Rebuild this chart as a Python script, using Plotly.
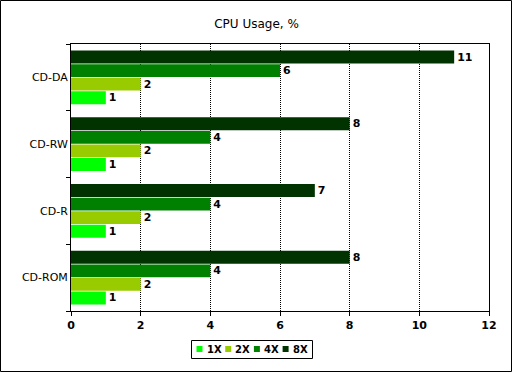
import plotly.graph_objects as go

categories = ["CD-ROM", "CD-R", "CD-RW", "CD-DA"]
series_names = ["1X", "2X", "4X", "8X"]
v_1x = [1, 1, 1, 1]
v_2x = [2, 2, 2, 2]
v_4x = [4, 4, 4, 6]
v_8x = [8, 7, 8, 11]
colors = ["#00FF00", "#99CC00", "#008000", "#003300"]

W, H = 513, 373
L, R, T, B = 71, 24, 44, 62
pw, ph = W - L - R, H - T - B


def px(x):
    return (x - L) / pw


def py(y):
    return (H - B - y) / ph


fig = go.Figure()
for name, vals, c in zip(series_names, [v_1x, v_2x, v_4x, v_8x], colors):
    fig.add_trace(go.Bar(
        y=categories, x=vals, name=name, orientation="h",
        marker=dict(color=c, line=dict(width=0)),
        text=[str(v) for v in vals], textposition="outside",
        textfont=dict(family="DejaVu Sans", size=11, color="black", weight="bold"),
        cliponaxis=False, showlegend=False,
    ))

shapes = [dict(type="rect", xref="paper", yref="paper",
               x0=px(0.5), x1=px(W - 1.5), y0=py(H - 1.5), y1=py(0.5),
               line=dict(color="black", width=1), fillcolor="rgba(0,0,0,0)")]
annotations = []
# custom compact legend
shapes.append(dict(type="rect", xref="paper", yref="paper",
                   x0=px(191.5), x1=px(312.5), y0=py(358.5), y1=py(340.5),
                   line=dict(color="black", width=1), fillcolor="white"))
for i, (name, c) in enumerate(zip(series_names, colors)):
    sx = 196.5 + i * 28.7
    shapes.append(dict(type="rect", xref="paper", yref="paper",
                       x0=px(sx), x1=px(sx + 6), y0=py(352), y1=py(346),
                       line=dict(width=0), fillcolor=c))
    annotations.append(dict(xref="paper", yref="paper", x=px(sx + 8), y=py(349.5),
                            text=name, showarrow=False, xanchor="left", yanchor="middle",
                            font=dict(family="DejaVu Sans", size=10, color="black", weight="bold")))

fig.update_layout(
    width=W, height=H,
    margin=dict(l=L, r=R, t=T, b=B, autoexpand=False),
    paper_bgcolor="white", plot_bgcolor="white",
    barmode="group", bargap=0.19, bargroupgap=0.04,
    title=dict(text="CPU Usage, %", x=0.5, xref="container", xanchor="center",
               y=1 - 24 / H, yref="container", yanchor="middle",
               font=dict(family="DejaVu Sans", size=12, color="black")),
    showlegend=False,
    xaxis=dict(range=[0, 12], dtick=2, showgrid=True, gridcolor="black", griddash="1px,1px", gridwidth=1,
               ticks="outside", ticklen=4, tickcolor="black", showline=True, linecolor="black", mirror=True,
               tickfont=dict(family="DejaVu Sans", size=11, color="black", weight="bold"),
               zeroline=False, fixedrange=True, automargin=False),
    yaxis=dict(tickson="boundaries", ticks="outside", ticklen=4, tickcolor="black", showline=True,
               linecolor="black", mirror=True, showgrid=False, automargin=False,
               tickfont=dict(family="DejaVu Sans", size=11, color="black"), fixedrange=True),
    shapes=shapes, annotations=annotations,
)

fig.write_html("out.html", config={"displayModeBar": False},
               post_script="document.body.style.margin='0';document.body.style.overflow='hidden';")
